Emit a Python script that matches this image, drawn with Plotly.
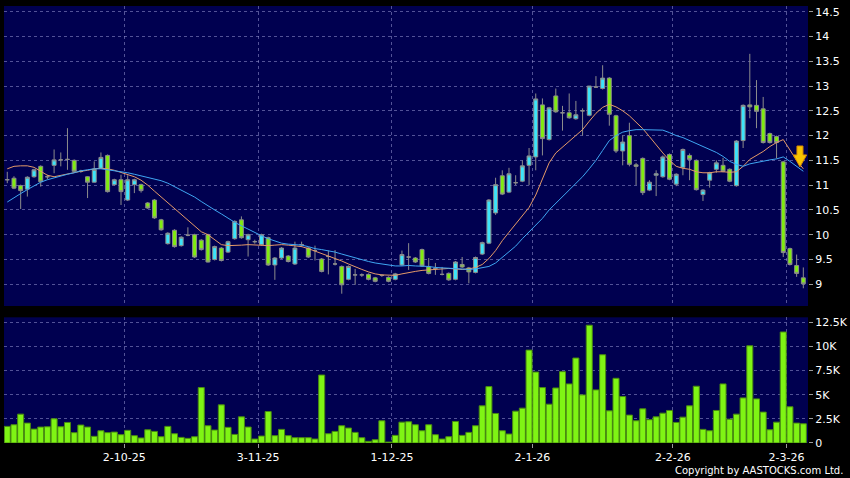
import plotly.graph_objects as go
import pandas as pd

# ---------------- data ----------------
hk_holidays = ["2025-10-01", "2025-10-07", "2025-10-29", "2025-12-25", "2025-12-26",
               "2026-01-01", "2026-02-17", "2026-02-18", "2026-02-19"]
dates = [d.strftime("%Y-%m-%d") for d in pd.bdate_range("2025-09-05", "2026-03-04")
         if d.strftime("%Y-%m-%d") not in hk_holidays]

open_ = [11.11, 11.14, 10.99, 10.92, 11.17, 11.38, 11.17, 11.40, 11.51, 11.52,
         11.50, 11.28, 11.17, 11.06, 11.34, 11.60, 11.01, 11.11, 10.70, 11.01,
         11.01, 10.64, 10.70, 10.30, 9.82, 10.09, 9.78, 9.99, 10.00, 9.89,
         10.00, 9.50, 9.73, 9.65, 9.92, 10.30, 9.90, 9.86, 9.80, 9.94,
         9.39, 9.53, 9.57, 9.41, 9.80, 9.73, 9.68, 9.51, 9.56, 9.41,
         9.36, 9.10, 9.19, 9.19, 9.20, 9.13, 9.18, 9.14, 9.10, 9.39,
         9.55, 9.53, 9.70, 9.35, 9.32, 9.20, 9.22, 9.10, 9.40, 9.33,
         9.24, 9.61, 9.83, 10.44, 11.19, 10.86, 11.05, 11.08, 11.40, 11.57,
         12.62, 11.92, 12.80, 12.46, 12.46, 12.34, 12.50, 12.41, 12.98, 12.95,
         13.16, 12.40, 11.69, 12.00, 11.41, 11.54, 10.90, 11.20, 11.17, 11.62,
         11.02, 11.36, 11.60, 11.50, 10.81, 11.10, 11.32, 11.40, 11.32, 10.99,
         11.90, 12.62, 12.61, 12.54, 12.04, 11.98, 11.47, 9.72, 9.38, 9.13]
high = [11.27, 11.18, 11.01, 11.18, 11.33, 11.40, 11.21, 11.72, 11.66, 12.15,
        11.52, 11.31, 11.18, 11.48, 11.66, 11.62, 11.13, 11.21, 11.20, 11.13,
        11.03, 10.66, 10.72, 10.32, 10.05, 10.11, 9.97, 10.15, 10.02, 9.91,
        10.02, 9.78, 9.75, 9.88, 10.29, 10.37, 10.02, 9.90, 10.02, 9.96,
        9.55, 9.75, 9.59, 9.86, 9.86, 9.75, 9.78, 9.53, 9.68, 9.69,
        9.38, 9.38, 9.31, 9.22, 9.22, 9.15, 9.20, 9.16, 9.23, 9.68,
        9.83, 9.55, 9.72, 9.53, 9.43, 9.35, 9.24, 9.47, 9.55, 9.35,
        9.56, 9.86, 10.72, 11.15, 11.30, 11.35, 11.20, 11.50, 11.75, 12.85,
        12.75, 12.58, 12.95, 12.60, 12.85, 12.70, 12.55, 13.00, 13.20, 13.42,
        13.18, 12.42, 12.00, 12.26, 11.45, 11.56, 11.10, 11.30, 11.60, 11.64,
        11.24, 11.74, 11.64, 11.52, 10.92, 11.27, 11.50, 11.55, 11.34, 11.91,
        12.63, 13.65, 13.12, 12.78, 12.06, 12.00, 11.49, 9.74, 9.60, 9.34]
low = [11.04, 10.92, 10.52, 10.77, 11.15, 10.97, 11.12, 11.24, 11.38, 11.31,
       11.26, 11.25, 10.74, 11.05, 11.33, 10.85, 10.99, 10.60, 10.68, 10.84,
       10.85, 10.52, 10.32, 10.08, 9.80, 9.74, 9.76, 9.97, 9.53, 9.68,
       9.44, 9.48, 9.46, 9.63, 9.90, 9.92, 9.56, 9.82, 9.78, 9.37,
       9.09, 9.51, 9.44, 9.39, 9.75, 9.53, 9.48, 9.24, 9.20, 9.38,
       8.81, 9.08, 8.99, 9.15, 9.08, 9.04, 9.15, 9.04, 9.08, 9.37,
       9.29, 9.43, 9.35, 9.20, 9.19, 9.18, 9.07, 9.08, 9.33, 9.02,
       9.22, 9.59, 9.81, 10.40, 10.80, 10.84, 11.00, 11.06, 11.00, 11.30,
       11.60, 11.90, 12.46, 12.10, 12.34, 12.32, 12.00, 12.39, 12.96, 12.93,
       12.20, 11.65, 11.40, 11.38, 11.00, 10.80, 10.88, 10.78, 11.15, 11.10,
       10.98, 11.20, 11.10, 10.89, 10.68, 10.95, 11.25, 11.26, 11.06, 10.97,
       11.75, 12.35, 12.15, 11.84, 11.84, 11.54, 9.55, 9.38, 9.15, 8.92]
close = [11.11, 10.94, 10.89, 11.16, 11.31, 11.07, 11.17, 11.51, 11.51, 11.52,
         11.28, 11.28, 11.06, 11.32, 11.56, 10.87, 11.11, 10.87, 11.11, 11.11,
         10.89, 10.54, 10.34, 10.10, 10.03, 9.76, 9.95, 9.99, 9.55, 9.70,
         9.45, 9.76, 9.48, 9.86, 10.27, 9.94, 10.00, 9.86, 10.00, 9.39,
         9.53, 9.73, 9.46, 9.73, 9.80, 9.55, 9.68, 9.26, 9.56, 9.41,
         8.99, 9.36, 9.19, 9.19, 9.10, 9.06, 9.18, 9.06, 9.21, 9.60,
         9.55, 9.45, 9.37, 9.22, 9.32, 9.20, 9.09, 9.45, 9.35, 9.25,
         9.54, 9.84, 10.70, 11.01, 10.82, 11.23, 11.05, 11.39, 11.59, 12.74,
         11.94, 12.56, 12.48, 12.46, 12.36, 12.42, 12.50, 13.00, 12.98, 13.16,
         12.43, 11.69, 11.87, 11.42, 11.38, 10.85, 11.06, 11.23, 11.57, 11.12,
         11.22, 11.72, 11.52, 10.91, 10.90, 11.25, 11.45, 11.28, 11.08, 11.89,
         12.61, 12.58, 12.49, 11.86, 11.86, 11.86, 9.64, 9.40, 9.22, 9.01]

ma_fast = [11.33, 11.38, 11.39, 11.39, 11.36, 11.28, 11.20, 11.17, 11.20, 11.23,
           11.26, 11.28, 11.30, 11.33, 11.34, 11.33, 11.30, 11.26, 11.22, 11.17,
           11.10, 11.00, 10.88, 10.76, 10.64, 10.52, 10.41, 10.30, 10.18, 10.06,
           10.00, 9.90, 9.80, 9.78, 9.78, 9.79, 9.80, 9.79, 9.78, 9.78,
           9.79, 9.80, 9.79, 9.78, 9.76, 9.72, 9.67, 9.62, 9.57, 9.53,
           9.47, 9.41, 9.35, 9.30, 9.25, 9.21, 9.19, 9.18, 9.18, 9.21,
           9.24, 9.26, 9.28, 9.29, 9.31, 9.32, 9.32, 9.31, 9.30, 9.31,
           9.34, 9.40, 9.52, 9.68, 9.88, 10.05, 10.22, 10.38, 10.55, 10.80,
           11.12, 11.45, 11.65, 11.77, 11.90, 12.02, 12.12, 12.29, 12.45, 12.57,
           12.63, 12.58, 12.50, 12.40, 12.28, 12.14, 11.98, 11.81, 11.65, 11.50,
           11.38, 11.34, 11.32, 11.27, 11.25, 11.25, 11.27, 11.27, 11.26, 11.27,
           11.38, 11.52, 11.60, 11.68, 11.78, 11.86, 11.92, 11.72, 11.50, 11.33]
ma_slow = [10.66, 10.75, 10.83, 10.91, 10.99, 11.06, 11.11, 11.15, 11.19, 11.22,
           11.25, 11.29, 11.31, 11.33, 11.33, 11.31, 11.30, 11.28, 11.25, 11.22,
           11.19, 11.16, 11.13, 11.09, 11.04, 10.97, 10.91, 10.84, 10.76, 10.67,
           10.58, 10.50, 10.42, 10.33, 10.25, 10.18, 10.11, 10.04, 9.98, 9.92,
           9.87, 9.83, 9.81, 9.80, 9.79, 9.76, 9.72, 9.70, 9.68, 9.65,
           9.61, 9.57, 9.53, 9.49, 9.46, 9.43, 9.41, 9.39, 9.37, 9.37,
           9.38, 9.37, 9.37, 9.36, 9.34, 9.33, 9.32, 9.31, 9.30, 9.30,
           9.31, 9.33, 9.36, 9.43, 9.55, 9.66, 9.77, 9.92, 10.05, 10.20,
           10.33, 10.50, 10.63, 10.77, 10.90, 11.03, 11.17, 11.33, 11.50, 11.70,
           11.90, 12.00, 12.07, 12.10, 12.12, 12.12, 12.12, 12.11, 12.11, 12.06,
           12.00, 11.96, 11.90, 11.85, 11.79, 11.73, 11.66, 11.58, 11.48, 11.42,
           11.38, 11.43, 11.46, 11.48, 11.51, 11.53, 11.57, 11.48, 11.38, 11.28]

volume_k = [1.72, 1.89, 2.99, 2.06, 1.44, 1.65, 1.68, 2.51, 1.68, 2.13,
            1.07, 1.86, 1.65, 0.69, 1.27, 1.07, 1.13, 0.86, 1.31, 0.76,
            0.52, 1.37, 1.20, 0.65, 1.72, 0.96, 0.58, 0.48, 0.65, 5.74,
            1.79, 1.34, 3.95, 1.62, 0.89, 2.71, 1.65, 0.41, 0.72, 3.26,
            0.76, 1.41, 0.76, 0.55, 0.55, 0.55, 0.41, 7.04, 0.96, 1.20,
            1.79, 1.55, 1.10, 0.55, 0.17, 0.34, 2.30, 0.10, 0.79, 2.16,
            2.20, 1.89, 1.27, 1.89, 0.86, 0.41, 0.65, 2.23, 0.79, 1.10,
            1.79, 3.85, 5.84, 3.06, 1.27, 0.93, 3.30, 3.61, 9.62, 7.35,
            5.74, 4.02, 5.70, 7.39, 6.12, 8.80, 4.98, 12.20, 5.50, 9.14,
            3.33, 6.70, 4.81, 2.89, 2.30, 3.54, 2.41, 2.71, 3.09, 3.37,
            2.13, 2.68, 3.85, 5.88, 1.41, 1.27, 3.37, 6.12, 2.47, 2.99,
            4.67, 10.07, 4.57, 3.20, 1.37, 2.16, 11.50, 3.75, 2.06, 1.99]

tick_dates = ["2025-10-02", "2025-11-03", "2025-12-01", "2026-01-02", "2026-02-02", "2026-03-02"]
price_ticks = [9, 9.5, 10, 10.5, 11, 11.5, 12, 12.5, 13, 13.5, 14, 14.5]
vol_ticks_k = [0, 2.5, 5, 7.5, 10, 12.5]

# ---------------- figure ----------------
xs = list(range(len(dates)))
UP = "#3ce4fa"
DOWN = "#80ec10"
EDGE = "#8c8c8c"
GRID = "rgba(150,150,210,0.55)"
FONT = "DejaVu Sans"

def tick_label(d):
    t = pd.Timestamp(d)
    return f"{t.day}-{t.month}-{t.strftime('%y')}"

tick_pos = [dates.index(d) - 0.5 for d in tick_dates]
tick_txt = [tick_label(d) for d in tick_dates]

fig = go.Figure()
fig.add_trace(go.Candlestick(
    x=xs, open=open_, high=high, low=low, close=close,
    xaxis="x", yaxis="y", whiskerwidth=0, showlegend=False,
    increasing=dict(fillcolor=UP, line=dict(color=EDGE, width=1)),
    decreasing=dict(fillcolor=DOWN, line=dict(color=EDGE, width=1)),
    text=dates, hoverinfo="x+y+text"))
fig.add_trace(go.Scatter(x=xs, y=ma_fast, mode="lines", xaxis="x", yaxis="y",
                         line=dict(color="#e59a68", width=1), showlegend=False))
fig.add_trace(go.Scatter(x=xs, y=ma_slow, mode="lines", xaxis="x", yaxis="y",
                         line=dict(color="#3fa6f2", width=1), showlegend=False))
fig.add_trace(go.Bar(x=xs, y=[v * 1000 for v in volume_k], xaxis="x2", yaxis="y2",
                     marker=dict(color="#7ff414", line=dict(color="#4a8c10", width=1)),
                     showlegend=False))

# down-arrow signal marker near the last sessions
cx, top, neck, tip, sw, hw = len(dates) - 1.5, 11.79, 11.61, 11.37, 0.45, 1.0
arrow_path = (f"M {cx - sw},{top} L {cx + sw},{top} L {cx + sw},{neck} L {cx + hw},{neck} "
              f"L {cx},{tip} L {cx - hw},{neck} L {cx - sw},{neck} Z")
fig.add_shape(type="path", path=arrow_path, xref="x", yref="y",
              fillcolor="#f8c400", line=dict(color="#d98a00", width=1))

axis_common = dict(showline=False, zeroline=False, gridcolor=GRID, griddash="3px,3px",
                   gridwidth=1, automargin=False)
xr = [-0.49, len(dates) - 0.3]
fig.update_layout(
    width=850, height=478,
    margin=dict(l=4, r=42, t=6, b=35, pad=0),
    paper_bgcolor="black", plot_bgcolor="#000050",
    font=dict(family=FONT, size=11, color="white"),
    boxgap=0.16, bargap=0.1,
    xaxis=dict(domain=[0, 1], anchor="y", range=xr, tickvals=tick_pos,
               showticklabels=False, ticks="", rangeslider=dict(visible=False), **axis_common),
    yaxis=dict(domain=[0.3135, 1], anchor="x", side="right", range=[8.562, 14.615],
               tickvals=price_ticks, ticktext=[f"{v:g}" for v in price_ticks],
               ticks="outside", ticklen=4, tickcolor="#9a9a9a", **axis_common),
    xaxis2=dict(domain=[0, 1], anchor="y2", range=xr, tickvals=tick_pos, ticktext=tick_txt,
                ticks="outside", ticklen=4, tickcolor="#9a9a9a", **axis_common),
    yaxis2=dict(domain=[0, 0.2876], anchor="x2", side="right", range=[0, 13017],
                tickvals=[v * 1000 for v in vol_ticks_k],
                ticktext=[("0" if v == 0 else f"{v:g}K") for v in vol_ticks_k],
                ticks="outside", ticklen=4, tickcolor="#9a9a9a", **axis_common),
    annotations=[dict(text="Copyright by AASTOCKS.com Ltd.", xref="paper", yref="paper",
                      x=1.046, y=-0.063, xanchor="right", yanchor="middle", showarrow=False,
                      font=dict(family=FONT, size=10, color="white"))],
)

fig.write_html("out.html", config={"displayModeBar": False},
               post_script="document.body.style.margin='0';"
               "document.body.style.overflow='hidden';")
